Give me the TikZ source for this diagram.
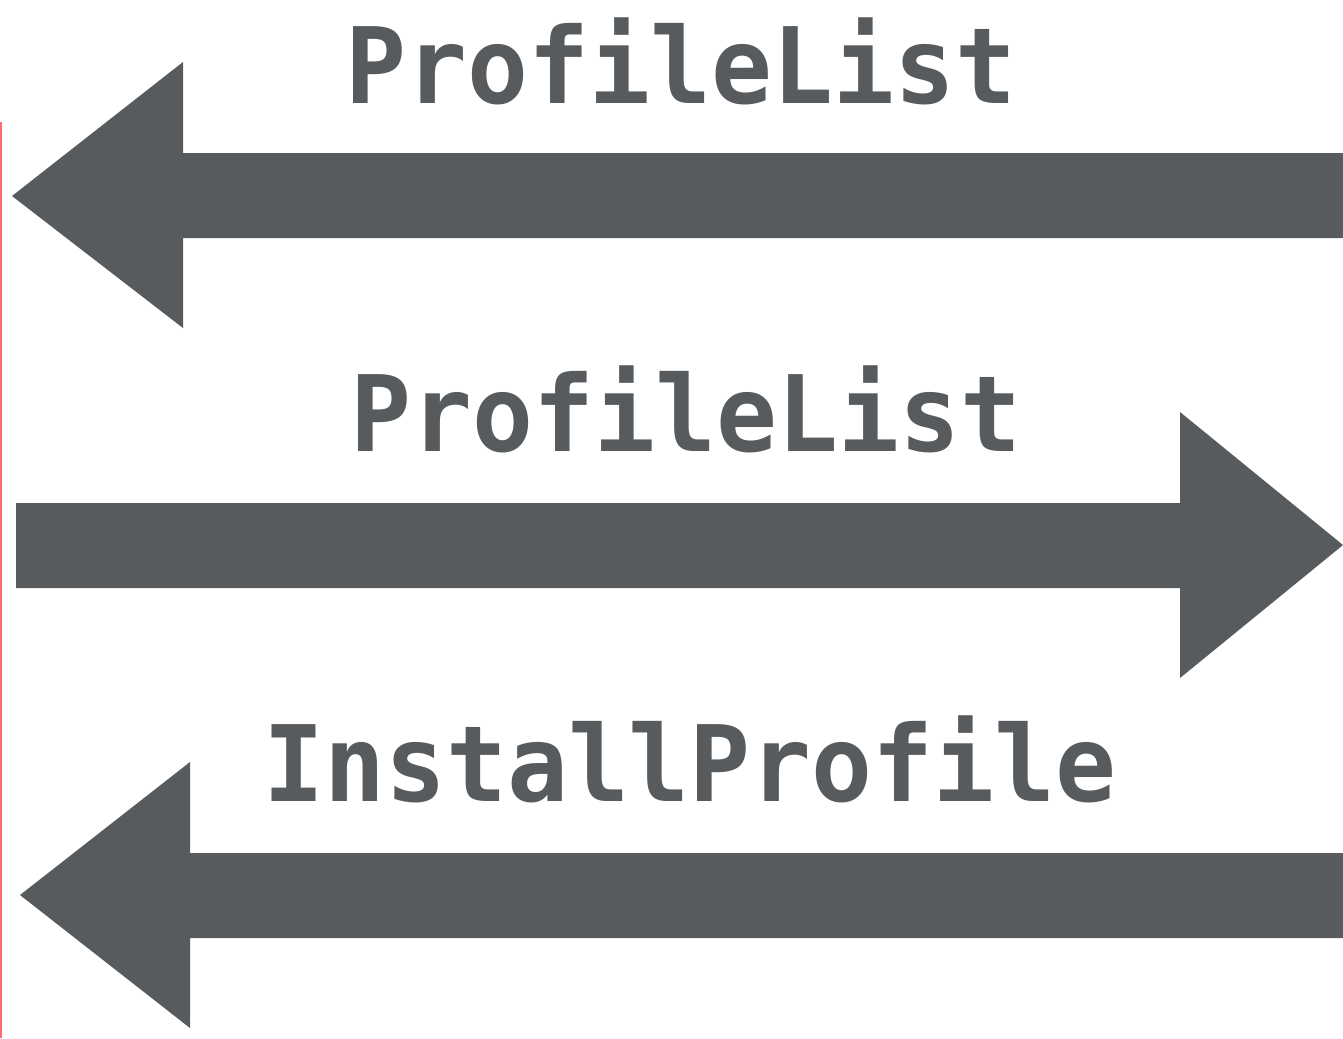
\documentclass[tikz,border=0pt]{standalone}
\usepackage{fontspec}
\newfontfamily\msgfont{DejaVu Sans Mono}
\usepackage{tikz}
\definecolor{arrowgrey}{rgb}{0.341, 0.357, 0.369}
\definecolor{lifered}{rgb}{1.0, 0.42, 0.42}

\begin{document}
\begin{tikzpicture}[x=0.01cm, y=-0.01cm]
        \useasboundingbox (0, 0) rectangle (1343, 1038);
        \draw[lifered, line width = 0.6pt] (1, 122) -- (1, 1038);
        \fill[arrowgrey] (1343, 153) -- (183, 153) -- (183, 62) -- (12, 196) -- (183, 328) -- (183, 238) -- (1343, 238) -- cycle;
        \fill[arrowgrey] (16, 503) -- (1180, 503) -- (1180, 412) -- (1343, 545) -- (1180, 678) -- (1180, 588) -- (16, 588) -- cycle;
        \fill[arrowgrey] (1343, 853) -- (190, 853) -- (190, 762) -- (20, 895) -- (190, 1028) -- (190, 938) -- (1343, 938) -- cycle;
        \node[anchor = base, inner sep = 0, xscale = 0.96] (1) at (681, 103) {\fontsize{30}{30}\msgfont\bfseries\color{arrowgrey} ProfileList};
        \node[anchor = base, inner sep = 0, xscale = 0.96] (2) at (686, 451) {\fontsize{30}{30}\msgfont\bfseries\color{arrowgrey} ProfileList};
        \node[anchor = base, inner sep = 0, xscale = 0.96] (3) at (690, 801) {\fontsize{30}{30}\msgfont\bfseries\color{arrowgrey} InstallProfile};
     \end{tikzpicture}
\end{document}
